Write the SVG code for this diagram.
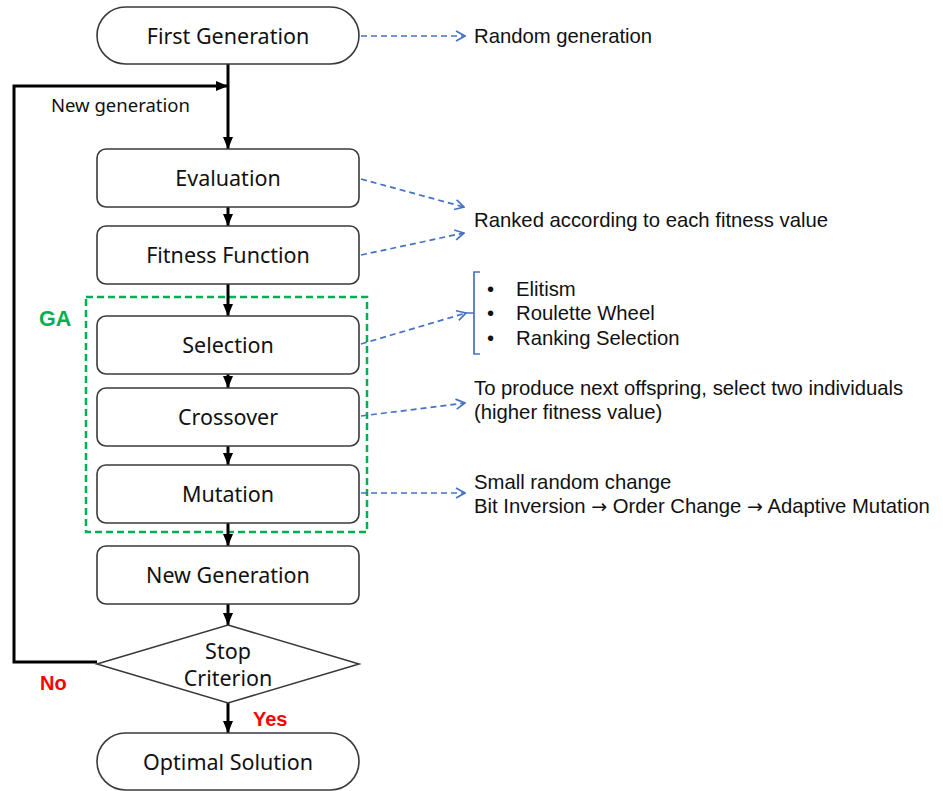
<svg xmlns="http://www.w3.org/2000/svg" width="943" height="791" viewBox="0 0 943 791">
<style>
.node{fill:#fff;stroke:#3a3a3a;stroke-width:1.6}
.nt{font-family:"Noto Sans","Open Sans",sans-serif;font-size:21.5px;fill:#111;text-anchor:middle}
.flow{stroke:#000;stroke-width:3;fill:none}
.dash{stroke:#4472C4;stroke-width:1.7;fill:none;stroke-dasharray:6 4}
.note{font-family:"Liberation Sans",Arial,sans-serif;font-size:20.3px;fill:#111}
.arr{font-family:"DejaVu Sans",sans-serif;font-size:19px}
</style>
<defs>
<marker id="ah" markerUnits="userSpaceOnUse" markerWidth="12" markerHeight="12" viewBox="0 0 12 12" refX="12" refY="6" orient="auto">
<path d="M0,1 L12,6 L0,11 Z" fill="#000"/>
</marker>
<marker id="bh" markerUnits="userSpaceOnUse" markerWidth="12" markerHeight="12" viewBox="0 0 12 12" refX="11" refY="6" orient="auto">
<path d="M2,1 L11,6 L2,11" fill="none" stroke="#4472C4" stroke-width="1.7"/>
</marker>
</defs>
<rect id="ga-box" x="86" y="297" width="281" height="235" fill="none" stroke="#00B050" stroke-width="2.5" stroke-dasharray="7 4"/>
<text x="39" y="326" font-family="Liberation Sans,Arial,sans-serif" font-size="21.5" font-weight="bold" fill="#00B050">GA</text>
<g id="connectors">
<line class="flow" x1="228" y1="64" x2="228" y2="149" marker-end="url(#ah)"/>
<polyline class="flow" points="97,662 14,662 14,86 228,86" marker-end="url(#ah)"/>
<line class="flow" x1="228" y1="207" x2="228" y2="226" marker-end="url(#ah)"/>
<line class="flow" x1="228" y1="284" x2="228" y2="316" marker-end="url(#ah)"/>
<line class="flow" x1="228" y1="374" x2="228" y2="388" marker-end="url(#ah)"/>
<line class="flow" x1="228" y1="446" x2="228" y2="465" marker-end="url(#ah)"/>
<line class="flow" x1="228" y1="523" x2="228" y2="546" marker-end="url(#ah)"/>
<line class="flow" x1="228" y1="604" x2="228" y2="625" marker-end="url(#ah)"/>
<line class="flow" x1="228" y1="703" x2="228" y2="733" marker-end="url(#ah)"/>
<line class="dash" x1="361" y1="36" x2="465" y2="36" marker-end="url(#bh)"/>
<line class="dash" x1="361" y1="179" x2="464" y2="207" marker-end="url(#bh)"/>
<line class="dash" x1="361" y1="255" x2="464" y2="233" marker-end="url(#bh)"/>
<line class="dash" x1="361" y1="344" x2="466" y2="313" marker-end="url(#bh)"/>
<line class="dash" x1="361" y1="416" x2="465" y2="403" marker-end="url(#bh)"/>
<line class="dash" x1="361" y1="493" x2="465" y2="493" marker-end="url(#bh)"/>
</g>
<text x="51" y="112" font-family="Noto Sans,Open Sans,sans-serif" font-size="18.5" fill="#111">New generation</text>
<text x="40" y="690" font-family="Liberation Sans,Arial,sans-serif" font-size="20" font-weight="bold" fill="#FF0000">No</text>
<text x="253" y="726" font-family="Liberation Sans,Arial,sans-serif" font-size="20" font-weight="bold" fill="#FF0000">Yes</text>
<g id="first-generation">
<rect class="node" x="97" y="7" width="262" height="57" rx="28.5"/>
<text class="nt" x="228" y="43.5">First Generation</text>
</g>
<g id="evaluation">
<rect class="node" x="97" y="149" width="262" height="58" rx="9"/>
<text class="nt" x="228" y="186">Evaluation</text>
</g>
<g id="fitness-function">
<rect class="node" x="97" y="226" width="262" height="58" rx="9"/>
<text class="nt" x="228" y="263">Fitness Function</text>
</g>
<g id="selection">
<rect class="node" x="97" y="316" width="262" height="58" rx="9"/>
<text class="nt" x="228" y="353">Selection</text>
</g>
<g id="crossover">
<rect class="node" x="97" y="388" width="262" height="58" rx="9"/>
<text class="nt" x="228" y="425">Crossover</text>
</g>
<g id="mutation">
<rect class="node" x="97" y="465" width="262" height="58" rx="9"/>
<text class="nt" x="228" y="502">Mutation</text>
</g>
<g id="new-generation">
<rect class="node" x="97" y="546" width="262" height="58" rx="9"/>
<text class="nt" x="228" y="583">New Generation</text>
</g>
<g id="stop-criterion">
<polygon class="node" points="228,625 359,664 228,703 97,664"/>
<text class="nt" x="228" y="659">Stop</text>
<text class="nt" x="228" y="686">Criterion</text>
</g>
<g id="optimal-solution">
<rect class="node" x="97" y="733" width="262" height="57" rx="28.5"/>
<text class="nt" x="228" y="770">Optimal Solution</text>
</g>
<g id="notes">
<text class="note" x="474" y="43">Random generation</text>
<text class="note" x="474" y="227">Ranked according to each fitness value</text>
<path d="M480,272 L474,272 L474,354 L480,354 M474,313 L466,313" fill="none" stroke="#4472C4" stroke-width="1.7"/>
<text class="note" x="487" y="296">•</text>
<text class="note" x="516" y="296">Elitism</text>
<text class="note" x="487" y="320">•</text>
<text class="note" x="516" y="320">Roulette Wheel</text>
<text class="note" x="487" y="345">•</text>
<text class="note" x="516" y="345">Ranking Selection</text>
<text class="note" x="474" y="395">To produce next offspring, select two individuals</text>
<text class="note" x="474" y="419">(higher fitness value)</text>
<text class="note" x="474" y="489">Small random change</text>
<text class="note" x="474" y="513">Bit Inversion <tspan class="arr">→</tspan> Order Change <tspan class="arr">→</tspan> Adaptive Mutation</text>
</g>
</svg>
